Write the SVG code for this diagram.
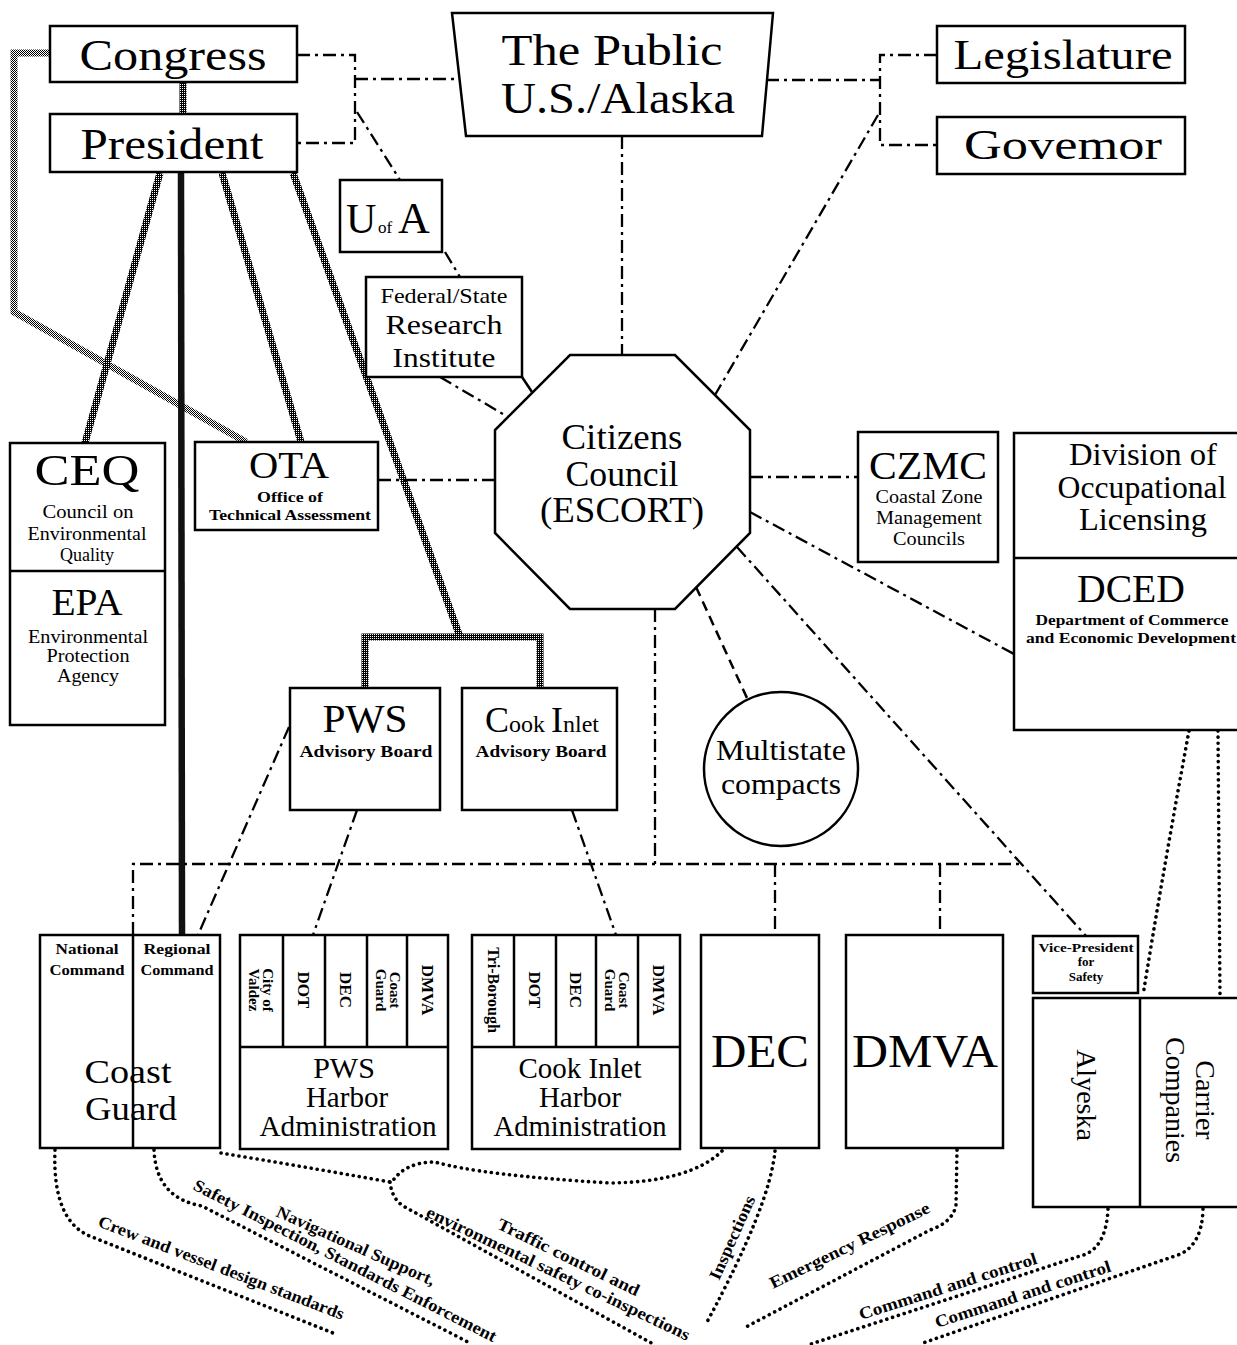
<svg xmlns="http://www.w3.org/2000/svg" width="1237" height="1345" viewBox="0 0 1237 1345">
<style>
.bx{fill:#fff;stroke:#000;stroke-width:2.5}
.ln{fill:none;stroke:#000;stroke-width:2.5}
.dd{fill:none;stroke:#000;stroke-width:2.3;stroke-dasharray:13 5 3 5}
.ds{fill:none;stroke:#000;stroke-width:2.5;stroke-dasharray:10 6}
.dt{fill:none;stroke:#000;stroke-width:3.6;stroke-dasharray:0.1 6;stroke-linecap:round}
.hk{fill:none;stroke:url(#hk);stroke-width:7;stroke-linejoin:miter}
.hl{fill:none;stroke:url(#hl);stroke-width:7}
text{font-family:"Liberation Serif","Times New Roman",serif;fill:#000}
.m{text-anchor:middle}
.b{font-weight:bold}
</style>
<defs>
<pattern id="hk" width="2" height="2" patternUnits="userSpaceOnUse"><rect width="2" height="2" fill="#000"/><rect width="1" height="1" fill="#fff"/></pattern>
<pattern id="hl" width="2" height="2" patternUnits="userSpaceOnUse"><rect width="2" height="2" fill="#fff"/><rect width="1" height="1" fill="#000"/><rect x="1" y="1" width="1" height="1" fill="#000"/></pattern>
</defs>
<rect width="1237" height="1345" fill="#fff"/>

<g id="connectors">
<path class="hl" d="M50,53 H14 V312 L246,442"/>
<path class="hk" d="M183,82 V114"/>
<path class="hk" d="M160,173 L85,443"/>
<path class="hk" d="M222,173 L301,442"/>
<path class="hk" d="M293,173 L460,637"/>
<path class="hk" d="M365,688 V637 H540 V688"/>
<path d="M181,173 L182,935" stroke="#111" stroke-width="6.5" fill="none"/>

<path class="dd" d="M297,55 H355 V143 H297"/>
<path class="dd" d="M355,79 H455"/>
<path class="dd" d="M357,112 L400,180"/>
<path class="dd" d="M766,80 H880"/>
<path class="dd" d="M937,55 H880 V145 H937"/>
<path class="dd" d="M878,115 L715,395"/>
<path class="dd" d="M622,136 V355"/>
<path class="dd" d="M445,252 L460,277"/>
<path class="dd" d="M440,377 L508,417"/>
<path class="ln" d="M522,377 L532,392"/>
<path class="dd" d="M378,480 H495"/>
<path class="dd" d="M750,477 H858"/>
<path class="dd" d="M750,512 L1014,654"/>
<path class="ds" d="M696,587 L747,698"/>
<path class="dd" d="M737,547 L1086,936"/>
<path class="dd" d="M655,609 V864"/>
<path class="dd" d="M133,935 V864 H1022"/>
<path class="dd" d="M775,864 V935"/>
<path class="dd" d="M940,864 V935"/>
<path class="dd" d="M357,810 L313,935"/>
<path class="dd" d="M572,810 L616,935"/>
<path class="dd" d="M289,727 L198,935"/>

<path class="dt" d="M55,1150 Q52,1222 92,1237 L333,1333"/>
<path class="dt" d="M154,1150 Q156,1198 202,1206 L470,1343"/>
<path class="dt" d="M221,1153 Q300,1166 390,1182"/>
<path class="dt" d="M722,1151 Q690,1182 610,1183 Q480,1175 435,1162 Q405,1162 392,1182"/>
<path class="dt" d="M390,1182 Q392,1200 405,1207 L655,1345"/>
<path class="dt" d="M775,1151 Q770,1205 707,1322"/>
<path class="dt" d="M957,1150 L956,1205 Q953,1222 930,1230 L744,1328"/>
<path class="dt" d="M1108,1209 Q1106,1250 1080,1256 L811,1344"/>
<path class="dt" d="M1203,1209 Q1202,1248 1175,1256 L920,1344"/>
<path class="dt" d="M1189,731 Q1165,860 1143,995"/>
<path class="dt" d="M1218,731 L1220,997"/>
</g>

<g id="congress"><rect class="bx" x="50" y="26" width="247" height="56"/><text class="m" x="173" y="70" font-size="44" textLength="187" lengthAdjust="spacingAndGlyphs">Congress</text></g>
<g id="president"><rect class="bx" x="50" y="114" width="247" height="58"/><text class="m" x="172" y="159" font-size="44" textLength="183" lengthAdjust="spacingAndGlyphs">President</text></g>
<g id="public"><polygon class="bx" points="452,13 773,13 762,136 466,136"/><text class="m" x="612" y="65" font-size="45" textLength="221" lengthAdjust="spacingAndGlyphs">The Public</text><text class="m" x="618" y="113" font-size="45" textLength="234" lengthAdjust="spacingAndGlyphs">U.S./Alaska</text></g>
<g id="legislature"><rect class="bx" x="937" y="26" width="248" height="57"/><text class="m" x="1063" y="69" font-size="43" textLength="219" lengthAdjust="spacingAndGlyphs">Legislature</text></g>
<g id="governor"><rect class="bx" x="937" y="117" width="248" height="57"/><text class="m" x="1063" y="159" font-size="43" textLength="198" lengthAdjust="spacingAndGlyphs">Govemor</text></g>
<g id="uofa"><rect class="bx" x="340" y="180" width="102" height="72"/><text x="346" y="233" font-size="42">U</text><text x="378" y="233" font-size="17">of</text><text x="398" y="233" font-size="44">A</text></g>
<g id="fedstate"><rect class="bx" x="366" y="277" width="156" height="100"/><text class="m" x="444" y="303" font-size="21" textLength="127" lengthAdjust="spacingAndGlyphs">Federal/State</text><text class="m" x="444" y="334" font-size="28" textLength="117" lengthAdjust="spacingAndGlyphs">Research</text><text class="m" x="444" y="367" font-size="28" textLength="103" lengthAdjust="spacingAndGlyphs">Institute</text></g>
<g id="citizens"><polygon class="bx" points="570,355 675,355 750,430 750,533 675,609 570,609 495,533 495,430"/><text class="m" x="622" y="449" font-size="35" textLength="121" lengthAdjust="spacingAndGlyphs">Citizens</text><text class="m" x="622" y="486" font-size="35" textLength="113" lengthAdjust="spacingAndGlyphs">Council</text><text class="m" x="622" y="522" font-size="35" textLength="164" lengthAdjust="spacingAndGlyphs">(ESCORT)</text></g>
<g id="ota"><rect class="bx" x="195" y="442" width="183" height="88"/><text class="m" x="289" y="478" font-size="38" textLength="80" lengthAdjust="spacingAndGlyphs">OTA</text><text class="m b" x="290" y="502" font-size="15" textLength="66" lengthAdjust="spacingAndGlyphs">Office of</text><text class="m b" x="290" y="520" font-size="15" textLength="162" lengthAdjust="spacingAndGlyphs">Technical Assessment</text></g>
<g id="ceq-epa"><rect class="bx" x="10" y="443" width="155" height="282"/><path class="ln" d="M10,571 H165"/><text class="m" x="87" y="485" font-size="44" textLength="105" lengthAdjust="spacingAndGlyphs">CEQ</text><text class="m" x="88" y="518" font-size="18" textLength="91" lengthAdjust="spacingAndGlyphs">Council on</text><text class="m" x="87" y="540" font-size="18" textLength="119" lengthAdjust="spacingAndGlyphs">Environmental</text><text class="m" x="87" y="561" font-size="18">Quality</text><text class="m" x="87" y="615" font-size="37" textLength="71" lengthAdjust="spacingAndGlyphs">EPA</text><text class="m" x="88" y="643" font-size="18" textLength="120" lengthAdjust="spacingAndGlyphs">Environmental</text><text class="m" x="88" y="662" font-size="18" textLength="83" lengthAdjust="spacingAndGlyphs">Protection</text><text class="m" x="88" y="682" font-size="18" textLength="62" lengthAdjust="spacingAndGlyphs">Agency</text></g>
<g id="czmc"><rect class="bx" x="858" y="432" width="140" height="130"/><text class="m" x="928" y="479" font-size="40" textLength="118" lengthAdjust="spacingAndGlyphs">CZMC</text><text class="m" x="929" y="503" font-size="18" textLength="107" lengthAdjust="spacingAndGlyphs">Coastal Zone</text><text class="m" x="929" y="524" font-size="18" textLength="106" lengthAdjust="spacingAndGlyphs">Management</text><text class="m" x="929" y="545" font-size="18" textLength="72" lengthAdjust="spacingAndGlyphs">Councils</text></g>
<g id="dol-dced"><rect class="bx" x="1014" y="433" width="232" height="297"/><path class="ln" d="M1014,558 H1246"/><text class="m" x="1143" y="465" font-size="31" textLength="148" lengthAdjust="spacingAndGlyphs">Division of</text><text class="m" x="1142" y="498" font-size="31" textLength="169" lengthAdjust="spacingAndGlyphs">Occupational</text><text class="m" x="1143" y="530" font-size="31" textLength="128" lengthAdjust="spacingAndGlyphs">Licensing</text><text class="m" x="1131" y="602" font-size="40" textLength="108" lengthAdjust="spacingAndGlyphs">DCED</text><text class="m b" x="1132" y="625" font-size="14" textLength="193" lengthAdjust="spacingAndGlyphs">Department of Commerce</text><text class="m b" x="1131" y="643" font-size="14" textLength="210" lengthAdjust="spacingAndGlyphs">and Economic Development</text></g>
<g id="pws-advisory"><rect class="bx" x="290" y="688" width="150" height="122"/><text class="m" x="365" y="732" font-size="40" textLength="85" lengthAdjust="spacingAndGlyphs">PWS</text><text class="m b" x="366" y="757" font-size="17" textLength="133" lengthAdjust="spacingAndGlyphs">Advisory Board</text></g>
<g id="cook-advisory"><rect class="bx" x="462" y="688" width="155" height="122"/><text class="m" x="542" y="732"><tspan font-size="36">C</tspan><tspan font-size="24">ook </tspan><tspan font-size="36">I</tspan><tspan font-size="24">nlet</tspan></text><text class="m b" x="541" y="757" font-size="17" textLength="131" lengthAdjust="spacingAndGlyphs">Advisory Board</text></g>
<g id="multistate"><circle class="bx" cx="781" cy="769" r="77"/><text class="m" x="781" y="760" font-size="29" textLength="130" lengthAdjust="spacingAndGlyphs">Multistate</text><text class="m" x="781" y="794" font-size="29" textLength="120" lengthAdjust="spacingAndGlyphs">compacts</text></g>

<g id="coastguard"><rect class="bx" x="40" y="935" width="180" height="213"/><path class="ln" d="M133,935 V1148"/><text class="m b" x="87" y="954" font-size="14" textLength="63" lengthAdjust="spacingAndGlyphs">National</text><text class="m b" x="87" y="975" font-size="14" textLength="75" lengthAdjust="spacingAndGlyphs">Command</text><text class="m b" x="177" y="954" font-size="14" textLength="67" lengthAdjust="spacingAndGlyphs">Regional</text><text class="m b" x="177" y="975" font-size="14" textLength="73" lengthAdjust="spacingAndGlyphs">Command</text><text class="m" x="128" y="1083" font-size="34" textLength="87" lengthAdjust="spacingAndGlyphs">Coast</text><text class="m" x="131" y="1120" font-size="34" textLength="92" lengthAdjust="spacingAndGlyphs">Guard</text></g>

<g id="pws-harbor"><rect class="bx" x="240" y="935" width="208" height="214"/><path class="ln" d="M240,1047 H448 M283,935 V1047 M325,935 V1047 M367,935 V1047 M407,935 V1047"/>
<g class="b" font-size="15"><g transform="translate(261,990) rotate(90)"><text class="m" x="0" y="-2">City of</text><text class="m" x="0" y="12">Valdez</text></g>
<text class="m" font-size="17" transform="translate(304,990) rotate(90)" y="6">DOT</text>
<text class="m" font-size="17" transform="translate(346,990) rotate(90)" y="6">DEC</text>
<g transform="translate(388,990) rotate(90)"><text class="m" x="0" y="-2">Coast</text><text class="m" x="0" y="12">Guard</text></g>
<text class="m" font-size="17" transform="translate(428,990) rotate(90)" y="6">DMVA</text></g>
<text class="m" x="344" y="1078" font-size="30">PWS</text><text class="m" x="347" y="1107" font-size="29">Harbor</text><text class="m" x="348" y="1136" font-size="29" textLength="177" lengthAdjust="spacingAndGlyphs">Administration</text></g>

<g id="cook-harbor"><rect class="bx" x="472" y="935" width="208" height="214"/><path class="ln" d="M472,1047 H680 M514,935 V1047 M556,935 V1047 M596,935 V1047 M638,935 V1047"/>
<g class="b" font-size="15"><text class="m" font-size="16" transform="translate(493,990) rotate(90)" y="5.5">Tri-Borough</text>
<text class="m" font-size="17" transform="translate(535,990) rotate(90)" y="6">DOT</text>
<text class="m" font-size="17" transform="translate(576,990) rotate(90)" y="6">DEC</text>
<g transform="translate(617,990) rotate(90)"><text class="m" x="0" y="-2">Coast</text><text class="m" x="0" y="12">Guard</text></g>
<text class="m" font-size="17" transform="translate(659,990) rotate(90)" y="6">DMVA</text></g>
<text class="m" x="580" y="1078" font-size="29" textLength="123" lengthAdjust="spacingAndGlyphs">Cook Inlet</text><text class="m" x="580" y="1107" font-size="29">Harbor</text><text class="m" x="580" y="1136" font-size="29" textLength="173" lengthAdjust="spacingAndGlyphs">Administration</text></g>

<g id="dec"><rect class="bx" x="701" y="935" width="118" height="213"/><text class="m" x="760" y="1067" font-size="46" textLength="98" lengthAdjust="spacingAndGlyphs">DEC</text></g>
<g id="dmva"><rect class="bx" x="846" y="935" width="157" height="213"/><text class="m" x="925" y="1067" font-size="46" textLength="146" lengthAdjust="spacingAndGlyphs">DMVA</text></g>
<g id="vp-safety"><rect class="bx" x="1033" y="936" width="105" height="57"/><text class="m b" x="1086" y="952" font-size="13" textLength="95" lengthAdjust="spacingAndGlyphs">Vice-President</text><text class="m b" x="1086" y="966" font-size="13">for</text><text class="m b" x="1086" y="981" font-size="13">Safety</text></g>
<g id="alyeska-carrier"><rect class="bx" x="1033" y="998" width="213" height="209"/><path class="ln" d="M1140,998 V1207"/><text class="m" font-size="28" transform="translate(1086,1095) rotate(90)" y="9">Alyeska</text><g transform="translate(1190,1100) rotate(90)" font-size="28"><text class="m" x="0" y="-6">Carrier</text><text class="m" x="0" y="24">Companies</text></g></g>

<g id="labels" font-size="17" font-weight="bold">
<text transform="translate(97,1226) rotate(21)" textLength="262" lengthAdjust="spacingAndGlyphs">Crew and vessel design standards</text>
<text transform="translate(192,1189) rotate(27)" textLength="338" lengthAdjust="spacingAndGlyphs">Safety Inspection, Standards Enforcement</text>
<text transform="translate(275,1216) rotate(24)" textLength="172" lengthAdjust="spacingAndGlyphs">Navigational Support,</text>
<text transform="translate(496,1228) rotate(26)" textLength="156" lengthAdjust="spacingAndGlyphs">Traffic control and</text>
<text transform="translate(425,1216) rotate(25.5)" textLength="290" lengthAdjust="spacingAndGlyphs">environmental safety co-inspections</text>
<text transform="translate(719,1281) rotate(-66)" textLength="90" lengthAdjust="spacingAndGlyphs">Inspections</text>
<text transform="translate(773,1289) rotate(-26)" textLength="176" lengthAdjust="spacingAndGlyphs">Emergency Response</text>
<text transform="translate(861,1320) rotate(-17.7)" textLength="186" lengthAdjust="spacingAndGlyphs">Command and control</text>
<text transform="translate(937,1328) rotate(-18)" textLength="184" lengthAdjust="spacingAndGlyphs">Command and control</text>
</g>
</svg>
